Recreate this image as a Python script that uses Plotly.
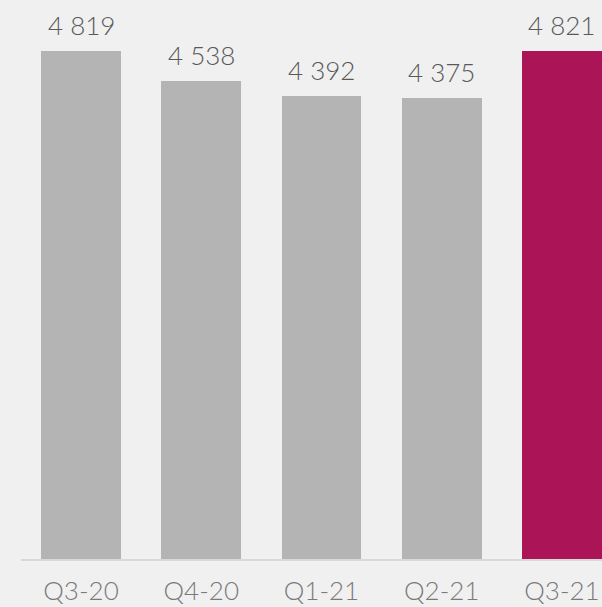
import plotly.graph_objects as go

categories = ["Q3-20", "Q4-20", "Q1-21", "Q2-21", "Q3-21"]
values = [4819, 4538, 4392, 4375, 4821]
bar_colors = ["#B4B4B4", "#B4B4B4", "#B4B4B4", "#B4B4B4", "#AB1457"]

labels = [f"{v:,}".replace(",", " ") for v in values]

FONT = "Lato Light, Lato"

fig = go.Figure()
fig.add_trace(go.Bar(
    x=list(range(len(categories))),
    y=values,
    marker=dict(color=bar_colors, line=dict(width=0)),
    width=0.665,
    hoverinfo="skip",
))

for i, (v, t) in enumerate(zip(values, labels)):
    fig.add_annotation(
        x=i, y=v, text=t, showarrow=False,
        xanchor="center", yanchor="bottom", yshift=8,
        font=dict(family=FONT, size=26, color="#595959", weight=300),
    )

fig.update_layout(
    width=602, height=607,
    margin=dict(l=21, r=0, t=0, b=48, autoexpand=False),
    paper_bgcolor="#F0F0F0",
    plot_bgcolor="#F0F0F0",
    showlegend=False,
    bargap=0,
    xaxis=dict(
        range=[-0.499, 4.333],
        automargin=False,
        tickmode="array",
        tickvals=list(range(len(categories))),
        ticktext=categories,
        showgrid=False, zeroline=False,
        showline=True, linecolor="#D9D9D9", linewidth=2,
        ticks="", ticklabelstandoff=8,
        tickfont=dict(family=FONT, size=26, color="#7A7A7A", weight=300),
    ),
    yaxis=dict(
        range=[0, 5303],
        automargin=False,
        showgrid=False, zeroline=False, showline=False,
        showticklabels=False, ticks="",
    ),
)

fig.write_html("out.html")
